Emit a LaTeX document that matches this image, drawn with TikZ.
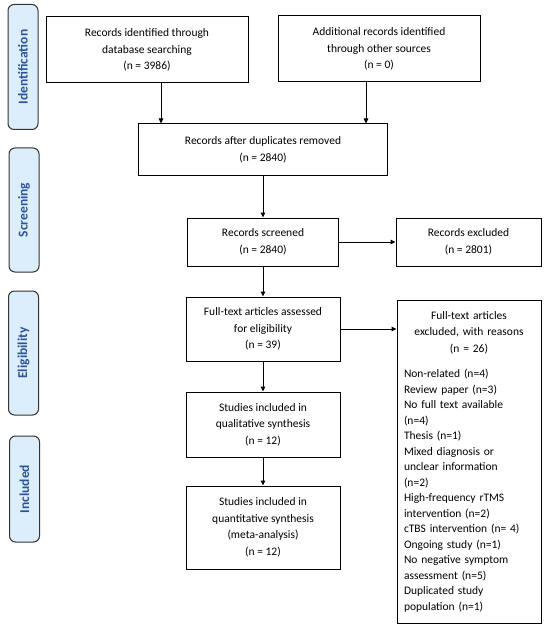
\documentclass[tikz,border=0pt]{standalone}
\usepackage{fontspec}
\setmainfont{Carlito}
\usetikzlibrary{positioning,arrows.meta,shapes}
\usepackage{xcolor}

\definecolor{stagefill}{HTML}{DCEEFB}
\definecolor{stagetext}{HTML}{2B5597}

\begin{document}
\begin{tikzpicture}[
    x = 1pt, y = -1pt,
    > = {Triangle[length=5pt,width=4.5pt]},
    line width = 1pt,
    font = \fontsize{11.5}{16.5}\selectfont,
    box/.style = {rectangle, draw, align=center, inner sep=2pt},
    stage/.style = {rectangle, rounded corners=6pt, draw=black!80, fill=stagefill,
        text=stagetext, font=\fontsize{13.5}{15}\selectfont\bfseries,
        rotate=90, inner sep=0pt, minimum height=30pt}
]
    \useasboundingbox (0,0) rectangle (550,631);

    % stages
    \node[stage, minimum width=125pt] (identification) at (23,67) {Identification};
    \node[stage, minimum width=124pt] (screening) at (24,210) {Screening};
    \node[stage, minimum width=124pt] (eligibility) at (23.5,353) {Eligibility};
    \node[stage, minimum width=106pt] (included) at (24.5,489) {Included};

    % boxes
    \node[box, minimum width=202pt, minimum height=66pt] (database) at (147,50)
        {Records identified through\\database searching\\(n = 3986)};
    \node[box, minimum width=202pt, minimum height=66pt] (other) at (379,49)
        {Additional records identified\\through other sources\\(n = 0)};
    \node[box, minimum width=249pt, minimum height=52pt] (dup) at (263,150)
        {Records after duplicates removed\\(n = 2840)};
    \node[box, minimum width=151pt, minimum height=48pt] (screened) at (263,242)
        {Records screened\\(n = 2840)};
    \node[box, minimum width=145pt, minimum height=48pt] (excluded) at (468.5,242)
        {Records excluded\\(n = 2801)};
    \node[box, minimum width=154pt, minimum height=64pt] (fulltext) at (263,329)
        {Full-text articles assessed\\for eligibility\\(n = 39)};
    \node[box, minimum width=154pt, minimum height=65pt] (qual) at (263,424.5)
        {Studies included in\\qualitative synthesis\\(n = 12)};
    \node[box, minimum width=154pt, minimum height=83pt] (quant) at (263,527.5)
        {Studies included in\\quantitative synthesis\\(meta-analysis)\\(n = 12)};
    \node[box, align=left, text width=130pt, inner xsep=7pt, minimum height=323pt] (reasons) at (469,461.5)
        {{\centering\baselineskip=16.5pt Full-text articles\\excluded, with reasons\\(n = 26)\par}
         \vspace{10pt}
         {\baselineskip=15.5pt Non-related (n=4)\\Review paper (n=3)\\No full text available\\(n=4)\\
          Thesis (n=1)\\Mixed diagnosis or\\unclear information\\(n=2)\\
          High-frequency rTMS\\intervention (n=2)\\cTBS intervention (n= 4)\\
          Ongoing study (n=1)\\No negative symptom\\assessment (n=5)\\
          Duplicated study\\population (n=1)\par}};

    % arrows
    \draw[->] ([xshift=14pt]database.south) -- ([xshift=14pt]database.south |- dup.north);
    \draw[->] ([xshift=-13pt]other.south) -- ([xshift=-13pt]other.south |- dup.north);
    \draw[->] (dup) -- (screened);
    \draw[->] (screened) -- (excluded);
    \draw[->] (screened) -- (fulltext);
    \draw[->] (fulltext.east) -- (fulltext.east -| reasons.west);
    \draw[->] (fulltext) -- (qual);
    \draw[->] (qual) -- (quant);
\end{tikzpicture}
\end{document}
